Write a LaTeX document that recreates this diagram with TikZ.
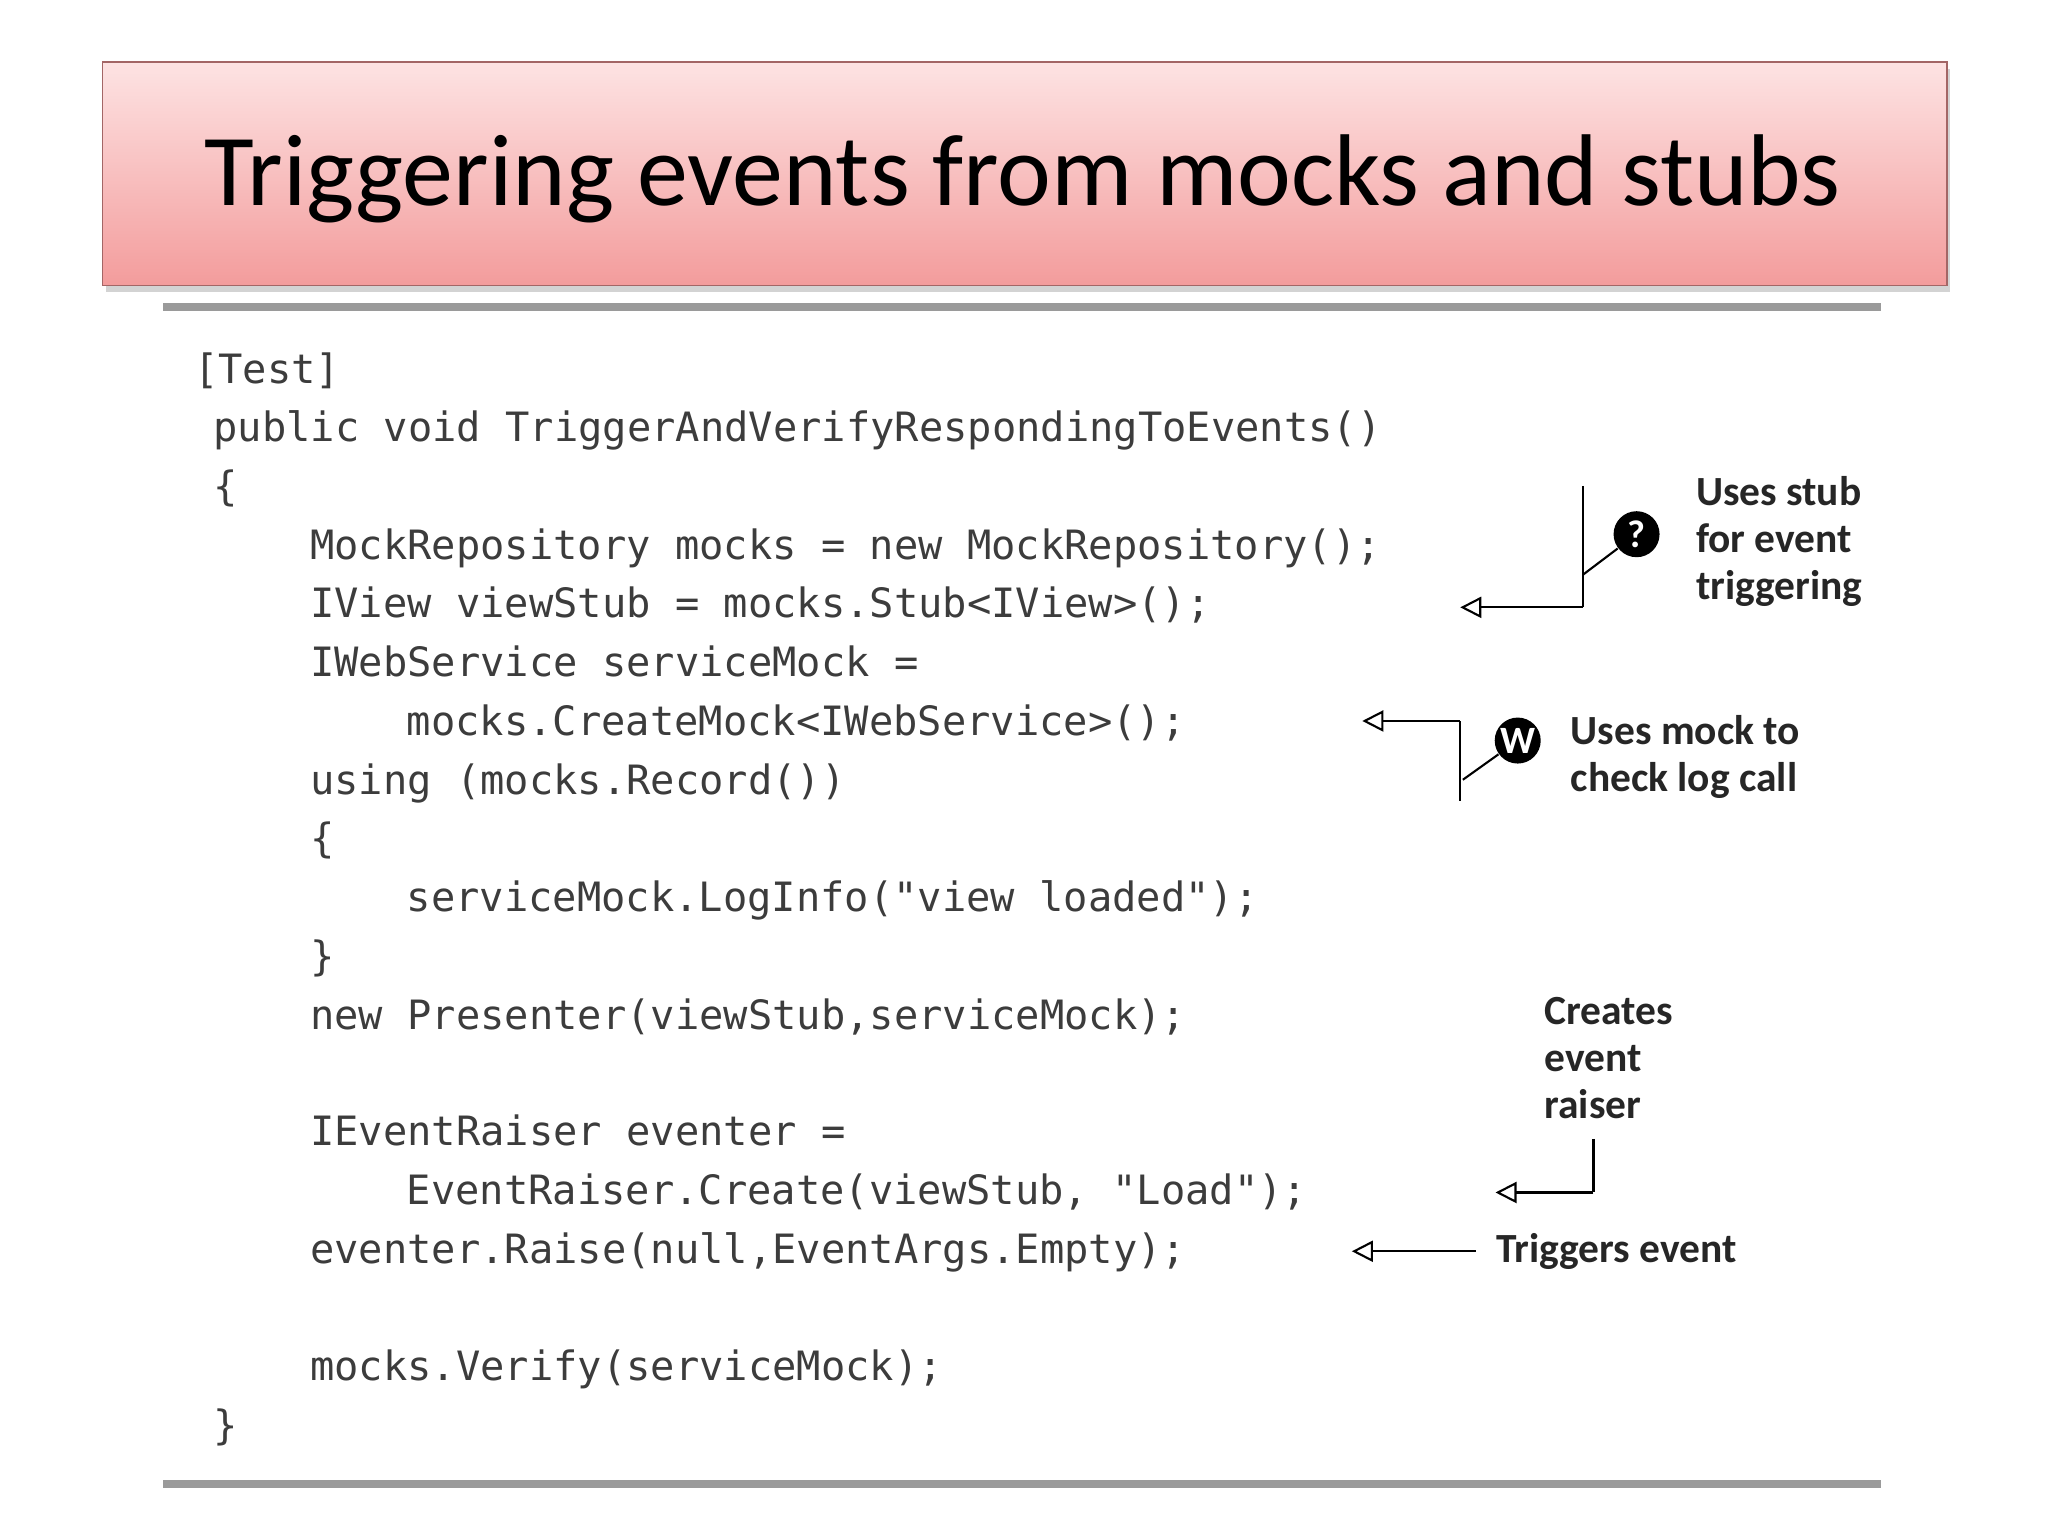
\documentclass[tikz,border=0pt]{standalone}
\usepackage{fontspec}
\setmainfont{Carlito}
\newfontfamily\codefont{DejaVu Sans Mono}
\usetikzlibrary{positioning}
\usetikzlibrary{arrows.meta}
\usetikzlibrary{shadows}
\definecolor{codegray}{HTML}{3C3C3C}
\definecolor{rulegray}{HTML}{9A9A9A}
\definecolor{titletop}{HTML}{FDE3E3}
\definecolor{titlebot}{HTML}{F39C9C}
\begin{document}
\begin{tikzpicture}[
    x=0.01306cm, y=-0.01306cm,
    % code lines
    code line/.style={anchor=base west, inner sep=0pt,
        font=\codefont\fontsize{11.5pt}{13pt}\selectfont, text=codegray},
    % annotations
    note/.style={anchor=north west, inner sep=0pt, align=left,
        font=\bfseries\fontsize{11.8pt}{13.4pt}\selectfont, text=black!85},
    marker/.style={circle, fill=black, text=white, inner sep=0pt,
        minimum size=0.46cm, font=\bfseries\fontsize{11pt}{11pt}\selectfont},
    callout/.style={-{Triangle[open, length=6pt, width=6pt]}, draw=black, line width=0.6pt},
    leader/.style={draw=black, line width=0.6pt},
    rule/.style={draw=rulegray, line width=0.08cm}
]

\useasboundingbox (0,0) rectangle (1568,1176);

% title bar
\node[draw=red!40!black!60, top color=titletop, bottom color=titlebot,
      drop shadow={shadow xshift=1pt, shadow yshift=-2pt, opacity=0.35},
      minimum width=1412*0.01306cm, minimum height=171*0.01306cm,
      inner sep=0pt, anchor=north west] (title) at (78,47) {};
\node[font=\fontsize{29pt}{34pt}\selectfont, text=black] (titletext)
      at (783,137) {Triggering events from mocks and stubs};

% rules
\draw[rule] (125,235) coordinate (r1a) -- (1440,235) coordinate (r1b);
\draw[rule] (125,1136) coordinate (r2a) -- (1440,1136) coordinate (r2b);

% code
\node[code line] (c1) at (148,294) {[Test]};
\node[code line] (c2) at (163,338) {public void TriggerAndVerifyRespondingToEvents()};
\node[code line] (c3) at (163,383) {\{};
\node[code line] (c4) at (237,428) {MockRepository mocks = new MockRepository();};
\node[code line] (c5) at (237,473) {IView viewStub = mocks.Stub<IView>();};
\node[code line] (c6) at (237,518) {IWebService serviceMock =};
\node[code line] (c7) at (311,563) {mocks.CreateMock<IWebService>();};
\node[code line] (c8) at (237,608) {using (mocks.Record())};
\node[code line] (c9) at (237,653) {\{};
\node[code line] (c10) at (311,698) {serviceMock.LogInfo("view loaded");};
\node[code line] (c11) at (237,743) {\}};
\node[code line] (c12) at (237,788) {new Presenter(viewStub,serviceMock);};
\node[code line] (c13) at (237,877) {IEventRaiser eventer =};
\node[code line] (c14) at (311,922) {EventRaiser.Create(viewStub, "Load");};
\node[code line] (c15) at (237,967) {eventer.Raise(null,EventArgs.Empty);};
\node[code line] (c16) at (237,1057) {mocks.Verify(serviceMock);};
\node[code line] (c17) at (163,1102) {\}};

% annotation 1
\node[note] (n1) at (1298,364) {Uses stub\\for event\\triggering};
\node[marker] (m1) at (1253,409) {?};
\coordinate (a1top) at (1212,372);
\coordinate (a1bend) at (1212,465);
\coordinate (a1end) at (1118,465);
\coordinate (a1join) at (1212,440);
\draw[leader] (a1top) -- (a1bend);
\draw[callout] (a1bend) -- (a1end);
\draw[leader] (m1) -- (a1join);

% annotation 2
\node[note] (n2) at (1202,547) {Uses mock to\\check log call};
\node[marker] (m2) at (1162,567) {W};
\coordinate (a2bot) at (1118,613);
\coordinate (a2bend) at (1118,552);
\coordinate (a2end) at (1043,552);
\coordinate (a2join) at (1120,597);
\draw[leader] (a2bot) -- (a2bend);
\draw[callout] (a2bend) -- (a2end);
\draw[leader] (m2) -- (a2join);

% annotation 3
\node[note] (n3) at (1182,763) {Creates\\event\\raiser};
\coordinate (a3top) at (1220,872);
\coordinate (a3bend) at (1220,913);
\coordinate (a3end) at (1145,913);
\draw[leader] (a3top) -- (a3bend);
\draw[callout] (a3bend) -- (a3end);

% annotation 4
\node[note, anchor=west] (n4) at (1145,958) {Triggers event};
\coordinate (a4end) at (1035,958);
\draw[callout, shorten <=0.2cm] (n4.west) -- (a4end);

\end{tikzpicture}
\end{document}
